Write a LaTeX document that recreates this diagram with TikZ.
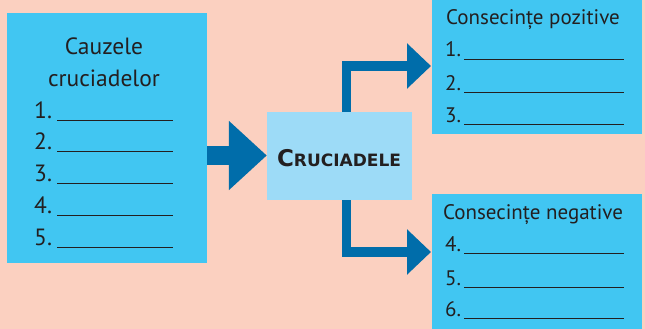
\documentclass[tikz,border=0pt]{standalone}
\usepackage{fontspec}
\setmainfont{PT Sans}
\newfontfamily\boldlabel{DejaVu Sans}
\usetikzlibrary{arrows.meta}
\definecolor{bgpeach}{HTML}{FBD0C0}
\definecolor{boxblue}{HTML}{41C6F2}
\definecolor{lightblue}{HTML}{9DDBF7}
\definecolor{arrowblue}{HTML}{006DAA}
\definecolor{ink}{HTML}{231F20}
\tikzset{
  txtL/.style={text=ink, font=\fontsize{23.5}{26}\selectfont, inner sep=0pt, anchor=base},
  numL/.style={text=ink, font=\fontsize{23.5}{26}\selectfont, inner sep=0pt, anchor=base west},
  txt/.style={text=ink, font=\fontsize{21}{24}\selectfont, inner sep=0pt, anchor=base},
  num/.style={text=ink, font=\fontsize{21}{24}\selectfont, inner sep=0pt, anchor=base west},
  blank/.style={draw=ink, line width=0.9pt}
}
\begin{document}
\begin{tikzpicture}[x=1pt,y=-1pt]
\fill[bgpeach] (0,0) rectangle (645,329);
\useasboundingbox (0,0) rectangle (645,329);
% boxes
\node[fill=boxblue, minimum width=200pt, minimum height=250pt, inner sep=0pt] (cz) at (107,138) {};
\node[fill=lightblue, minimum width=145pt, minimum height=88pt, inner sep=0pt] (cr) at (339.5,156) {};
\node[fill=boxblue, minimum width=210pt, minimum height=134pt, inner sep=0pt] (pos) at (537,67) {};
\node[fill=boxblue, minimum width=210pt, minimum height=135pt, inner sep=0pt] (neg) at (537,261.5) {};
% center label
\node[text=ink, inner sep=0pt, anchor=base] (crl) at (339,166) {\boldlabel\bfseries\fontsize{23}{24}\selectfont C\fontsize{17}{20}\selectfont RUCIADELE};
% left box text
\node[txtL] (t1) at (104,55) {Cauzele};
\node[txtL] (t2) at (104,86) {cruciadelor};
\foreach \i/\y in {1/120,2/151,3/183,4/215,5/247}{
  \node[numL] (cn\i) at (34,\y-2) {\i.};
  \coordinate (cu\i a) at (57,\y);
  \coordinate (cu\i b) at (173,\y);
  \draw[blank] (cu\i a) -- (cu\i b);
}
% positive box
\node[txt] (pt) at (533,25) {Consecințe pozitive};
\foreach \i/\y in {1/59,2/92,3/124}{
  \node[num] (pn\i) at (445,\y-2) {\i.};
  \coordinate (pu\i a) at (464,\y);
  \coordinate (pu\i b) at (624,\y);
  \draw[blank] (pu\i a) -- (pu\i b);
}
% negative box
\node[txt] (nt) at (533,219) {Consecințe negative};
\foreach \i/\y in {4/253,5/287,6/318}{
  \node[num] (nn\i) at (445,\y-2) {\i.};
  \coordinate (nu\i a) at (464,\y);
  \coordinate (nu\i b) at (624,\y);
  \draw[blank] (nu\i a) -- (nu\i b);
}
% arrows
\coordinate (la) at (207,155.5);
\draw[draw=arrowblue, line width=19pt, -{Triangle[length=38pt,width=67pt]}] (la) -- (cr.west |- la);
\coordinate (ua) at (346.5,112);
\coordinate (ub) at (431,66);
\draw[draw=arrowblue, line width=9.5pt, line join=miter, -{Triangle[length=24pt,width=44pt]}] (ua) |- (ub);
\coordinate (da) at (346.5,200);
\coordinate (db) at (431,252);
\draw[draw=arrowblue, line width=9.5pt, line join=miter, -{Triangle[length=24pt,width=44pt]}] (da) |- (db);
\end{tikzpicture}
\end{document}
